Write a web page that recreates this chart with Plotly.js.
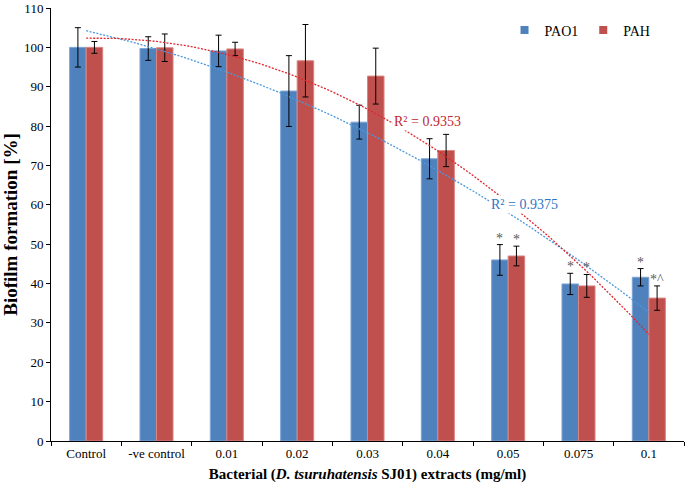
<!DOCTYPE html>
<html>
<head>
<meta charset="utf-8">
<script src="https://cdn.plot.ly/plotly-3.0.1.min.js"></script>
<style>
  html, body { margin: 0; padding: 0; background: #fff; }
  #chart { width: 686px; height: 489px; }
</style>
</head>
<body>
<div id="chart"></div>
<script>
var categories = ['Control', '-ve control', '0.01', '0.02', '0.03', '0.04', '0.05', '0.075', '0.1'];
var pao1 = [100, 99.7, 99.1, 88.9, 81.0, 71.7, 46.0, 39.9, 41.6];
var pao1Err = [5.0, 3.0, 4.0, 9.0, 4.3, 5.1, 3.9, 2.7, 2.2];
var pah = [100, 99.9, 99.6, 96.6, 92.7, 73.8, 47.0, 39.4, 36.3];
var pahErr = [1.5, 3.5, 1.7, 9.2, 7.1, 4.1, 2.5, 2.9, 3.1];
var pao1Marks = ['', '', '', '', '', '', '*', '*', '*'];
var pahMarks = ['', '', '', '', '', '', '*', '*', '*^'];
var r2Pao1 = 'R² = 0.9375';
var r2Pah = 'R² = 0.9353';

var serif = 'Liberation Serif, Times New Roman, serif';
var blue = '#4F81BD', red = '#C0504D';

// 2nd order polynomial trendline (least squares), like Excel does
function polyFit(ys) {
    var n = ys.length, s = [0, 0, 0, 0, 0], t = [0, 0, 0];
    for (var i = 0; i < n; i++) {
        var x = i + 1;
        for (var k = 0; k < 5; k++) s[k] += Math.pow(x, k);
        for (var k = 0; k < 3; k++) t[k] += ys[i] * Math.pow(x, k);
    }
    var m = [[s[0], s[1], s[2], t[0]], [s[1], s[2], s[3], t[1]], [s[2], s[3], s[4], t[2]]];
    for (var c = 0; c < 3; c++) {
        for (var r = c + 1; r < 3; r++) {
            var f = m[r][c] / m[c][c];
            for (var k = c; k < 4; k++) m[r][k] -= f * m[c][k];
        }
    }
    var coef = [0, 0, 0];
    for (var r = 2; r >= 0; r--) {
        var v = m[r][3];
        for (var k = r + 1; k < 3; k++) v -= m[r][k] * coef[k];
        coef[r] = v / m[r][r];
    }
    return coef;
}

function trendTrace(ys, color) {
    var c = polyFit(ys), xs = [], vs = [];
    for (var j = 0; j <= 80; j++) {
        var x = 1 + j / 10;
        xs.push(x - 1);
        vs.push(c[0] + c[1] * x + c[2] * x * x);
    }
    return {
        x: xs, y: vs, xaxis: 'x2', type: 'scatter', mode: 'lines',
        line: {color: color, width: 1.3, dash: '2px,1.5px'},
        showlegend: false, hoverinfo: 'skip'
    };
}

// legend-only entries so the swatch is a small square like the original
function legendEntry(name, color) {
    return {
        x: [null], y: [null], xaxis: 'x2', type: 'scatter', mode: 'markers', name: name,
        marker: {symbol: 'square', size: 8, color: color}
    };
}

var traces = [
    {
        x: categories, y: pao1, name: 'PAO1', type: 'bar', showlegend: false,
        marker: {color: blue, line: {color: '#7FA6D6', width: 1}},
        error_y: {type: 'data', array: pao1Err, visible: true, color: '#000', thickness: 1, width: 3}
    },
    {
        x: categories, y: pah, name: 'PAH', type: 'bar', showlegend: false,
        marker: {color: red, line: {color: '#D98582', width: 1}},
        error_y: {type: 'data', array: pahErr, visible: true, color: '#000', thickness: 1, width: 3}
    },
    trendTrace(pao1, '#4A98DE'),
    trendTrace(pah, '#E0262E'),
    legendEntry('PAO1', blue),
    legendEntry('PAH', red)
];

var annotations = [];
var barOff = 0.1175;
for (var i = 0; i < categories.length; i++) {
    if (pao1Marks[i]) {
        annotations.push({x: i - barOff, y: pao1[i] + pao1Err[i], xref: 'x2', yref: 'y',
            text: pao1Marks[i], showarrow: false, yanchor: 'bottom', yshift: -3,
            font: {family: serif, size: 14, color: '#595959'}});
    }
    if (pahMarks[i]) {
        annotations.push({x: i + barOff, y: pah[i] + pahErr[i], xref: 'x2', yref: 'y',
            text: pahMarks[i], showarrow: false, yanchor: 'bottom', yshift: -3,
            font: {family: serif, size: 14, color: '#595959'}});
    }
}
annotations.push({x: 4.85, y: 81.2, xref: 'x2', yref: 'y', text: r2Pah, showarrow: false,
    bgcolor: '#fff', borderpad: 1, font: {family: serif, size: 14, color: '#C0282D'}});
annotations.push({x: 6.23, y: 60.1, xref: 'x2', yref: 'y', text: r2Pao1, showarrow: false,
    bgcolor: '#fff', borderpad: 1, font: {family: serif, size: 14, color: '#2E75C6'}});

var layout = {
    width: 686, height: 489,
    margin: {l: 51, r: 2, t: 8, b: 48},
    paper_bgcolor: '#fff', plot_bgcolor: '#fff',
    barmode: 'group', bargap: 0.53, bargroupgap: 0,
    font: {family: serif, size: 13, color: '#000'},
    xaxis: {
        type: 'category', range: [-0.5, 8.5], showline: true, linecolor: '#000', linewidth: 1,
        ticks: 'outside', tickson: 'boundaries', ticklen: 4, tickcolor: '#000',
        showgrid: false, zeroline: false,
        tickfont: {family: serif, size: 13},
        title: {text: '<b>Bacterial (<i>D. tsuruhatensis</i> SJ01) extracts (mg/ml)</b>',
            font: {family: serif, size: 15}, standoff: 8}
    },
    xaxis2: {overlaying: 'x', range: [-0.5, 8.5], visible: false},
    yaxis: {
        range: [0, 110], dtick: 10, showline: true, linecolor: '#000', linewidth: 1,
        ticks: 'outside', ticklen: 4, tickcolor: '#000', showgrid: false, zeroline: false,
        tickfont: {family: serif, size: 13},
        title: {text: '<b>Biofilm formation [%]</b>', font: {family: serif, size: 19}, standoff: 4}
    },
    legend: {
        orientation: 'h', x: 0.955, y: 0.985, xanchor: 'right', yanchor: 'top',
        font: {family: serif, size: 14}, itemwidth: 30, traceorder: 'normal',
        bgcolor: 'rgba(0,0,0,0)'
    },
    annotations: annotations
};

Plotly.newPlot('chart', traces, layout, {displayModeBar: false, staticPlot: true});
</script>
</body>
</html>
